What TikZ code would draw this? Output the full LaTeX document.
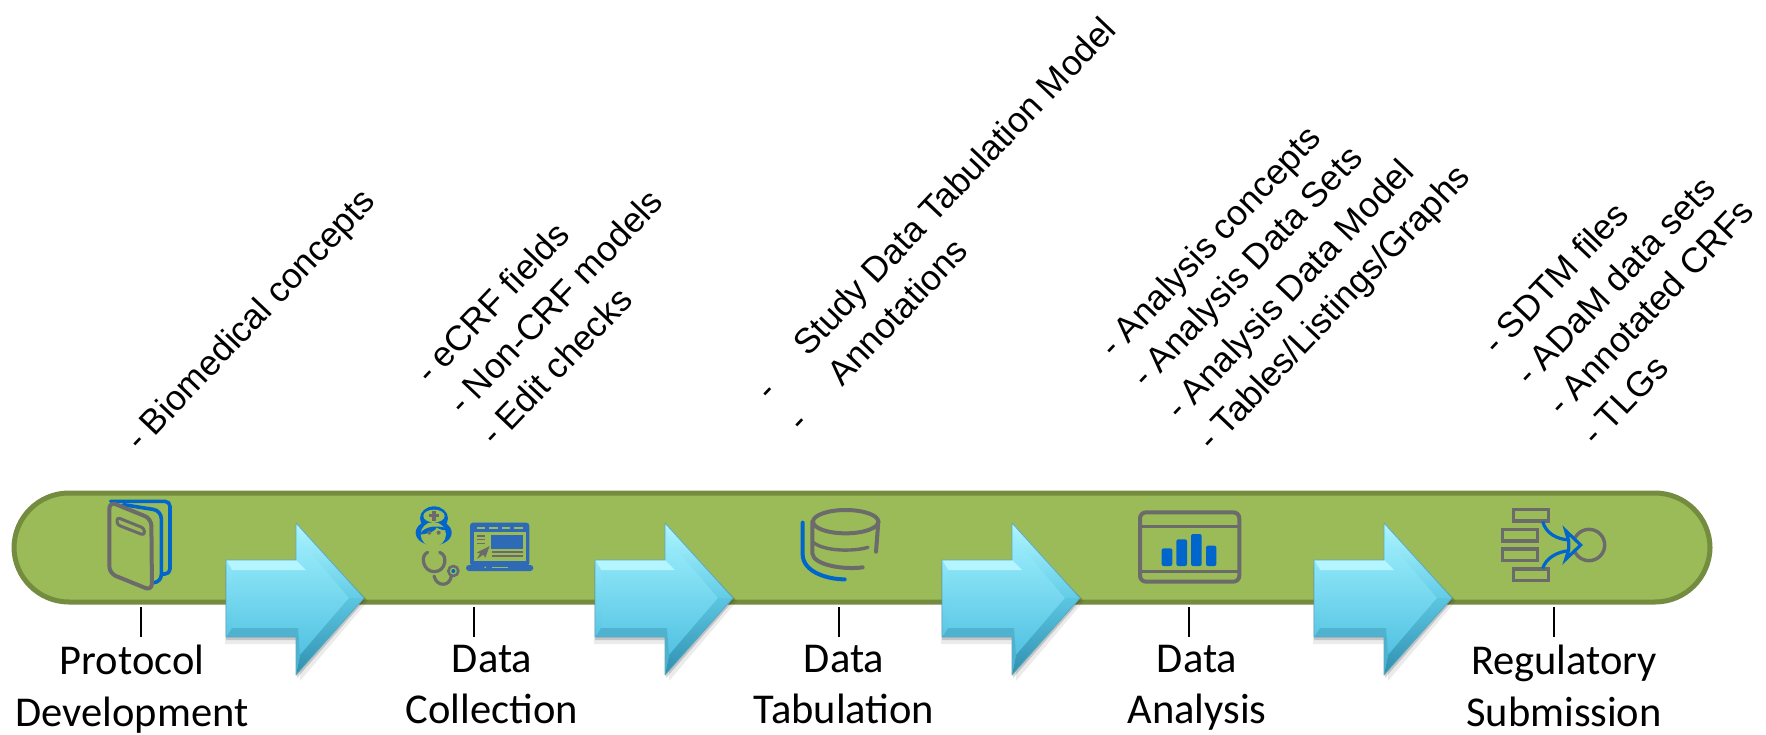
\documentclass[tikz,border=0pt]{standalone}
\usepackage{fontspec}
\setmainfont{Liberation Sans}
\newfontfamily\calib{Carlito}
\definecolor{pillfill}{HTML}{9BBB59}
\definecolor{pilledge}{HTML}{748C40}
\definecolor{icongray}{HTML}{6B6B6B}
\definecolor{iconblue}{HTML}{0066CC}
\definecolor{lapblue}{HTML}{2E6AB5}
\definecolor{arTop}{HTML}{A4F3FF}
\definecolor{arBot}{HTML}{45BADD}
\definecolor{arHiA}{HTML}{B4F5FF}
\definecolor{arHeadA}{HTML}{B0F6FF}
\definecolor{arHeadB}{HTML}{62CCE6}
\definecolor{arLowA}{HTML}{5CC6E2}
\definecolor{arLowB}{HTML}{2F8FAE}
\definecolor{arEdge}{HTML}{4FB2CF}
\definecolor{arLine}{HTML}{5FA9BF}
\tikzset{
  stagelabel/.style={font=\calib\fontsize{42.5}{51.5}\selectfont,align=center,anchor=north,inner sep=0pt,text=black},
  rotlabel/.style={font=\fontsize{35.2}{40}\selectfont,rotate=46.5,anchor=base west,inner sep=0pt,text=black},
  ticklink/.style={draw=black,line width=1.8pt},
  gline/.style={draw=icongray,line width=4pt,line cap=round,line join=round},
  bline/.style={draw=iconblue,line width=4pt,line cap=round,line join=round},
  pics/bevarrow/.style={code={
    \fill[black,opacity=.08] (-1,566)--(74,566)--(74,530)--(142,601)--(74,681)--(74,644)--(-1,644)--cycle;
    \fill[black,opacity=.16] (0,563)--(71,563)--(71,526)--(140,599)--(71,678)--(71,640)--(0,640)--cycle;
    \shade[top color=arTop,bottom color=arBot] (0,560)--(70,560)--(70,523)--(138,598)--(70,675)--(70,637)--(0,637)--cycle;
    \fill[arHiA] (0,560)--(70,560)--(80,570)--(6,570)--cycle;
    \shade[top color=arHeadA,bottom color=arHeadB] (70,523)--(138,598)--(123,598)--(74,540)--cycle;
    \shade[top color=arLowA,bottom color=arLowB] (138,598)--(70,675)--(74,655)--(123,598)--cycle;
    \fill[arEdge] (0,637)--(70,637)--(72,628)--(6,628)--cycle;
    \fill[arEdge] (70,637)--(70,675)--(74,655)--(72,628)--cycle;
    \shade[top color=arTop!80!arBot,bottom color=arBot!80!arTop] (0,560)--(6,570)--(6,628)--(0,637)--cycle;
    \draw[arLine,line width=.8pt,line join=round] (0,560)--(70,560)--(70,523)--(138,598)--(70,675)--(70,637)--(0,637)--cycle;
  }}
}
\begin{document}
\begin{tikzpicture}[x=1pt,y=-1pt]
\useasboundingbox (0,0) rectangle (1766,734);
% band
\draw[pilledge,fill=pillfill,line width=5pt,rounded corners=55pt] (14,493) rectangle (1710,602);

% arrows
\pic at (226,0) {bevarrow};
\pic at (595,0) {bevarrow};
\pic at (942,0) {bevarrow};
\pic at (1314,0) {bevarrow};

% book icon
\begin{scope}[shift={(80,490)},scale=1/3]
  \draw[bline,line width=3.6pt,rounded corners=5pt] (92,34) -- (270,34) -- (270,252) -- (248,252);
  \draw[bline,line width=3.6pt,rounded corners=8pt] (130,44) -- (244,62) -- (244,278) -- (222,278);
  \draw[gline,rounded corners=7pt] (88,35) -- (214,86) -- (216,302) -- (88,250) -- cycle;
  \draw[gline,line width=3pt,rounded corners=3pt] (111,82) -- (193,115) -- (193,136) -- (111,104) -- cycle;
\end{scope}

% nurse and laptop icon
\begin{scope}[shift={(380,490)},scale=1/3]
  \fill[iconblue] (162,85) ellipse[x radius=42,y radius=36];
  \fill[iconblue] (161,128) ellipse[x radius=54,y radius=38];
  \fill[pillfill] (162,78) ellipse[x radius=32,y radius=19];
  \fill[icongray] (157,63) rectangle (167,92);
  \fill[icongray] (148,73) rectangle (176,82);
  \fill[pillfill] (160,133) ellipse[x radius=38,y radius=37];
  \fill[iconblue] (120,134) .. controls (150,130) and (168,122) .. (170,112) .. controls (180,120) and (195,122) .. (206,120) .. controls (190,104) and (130,104) .. cycle;
  \fill[icongray] (148,128) circle[radius=6];
  \fill[icongray] (176,128) circle[radius=6];
  \draw[gline,line width=3.2pt] (143,187) .. controls (120,195) and (128,245) .. (163,245) .. controls (198,245) and (205,195) .. (179,187);
  \draw[gline,line width=3.2pt] (162,258) .. controls (170,292) and (210,290) .. (214,258);
  \draw[gline,line width=2.6pt,fill=pillfill] (220,243) circle[radius=15];
  \fill[iconblue] (220,243) circle[radius=6];
  \fill[lapblue,rounded corners=3pt] (270,98) rectangle (448,228);
  \fill[lapblue,rounded corners=3pt] (258,225) rectangle (460,243);
  \fill[pillfill] (282,126) rectangle (437,214);
  \foreach \u in {290,327,365,402} \fill[pillfill] (\u,112) rectangle +(26,6);
  \fill[lapblue] (334,135) rectangle (429,177);
  \fill[icongray] (335,183) rectangle (429,189);
  \fill[icongray] (335,196) rectangle (429,202);
  \foreach \v in {135,146,158} \fill[icongray] (290,\v) rectangle +(26,5);
  \fill[icongray] (329,168) -- (290,188) -- (300,190) -- (291,207) -- (310,194) -- (316,203) -- cycle;
  \fill[pillfill] (316,232) circle[radius=3];
  \fill[pillfill] (335,230) rectangle (385,235);
\end{scope}

% database icon
\begin{scope}[shift={(770,490)},scale=1/3]
  \draw[gline] (227,95) ellipse[x radius=98,y radius=35];
  \draw[gline] (325,95) -- (318,185);
  \draw[gline] (127,95) -- (127,190) .. controls (130,225) and (220,240) .. (278,232);
  \draw[gline,line width=3.4pt] (127,155) .. controls (160,185) and (250,185) .. (294,172);
  \draw[bline] (98,98) -- (98,195) .. controls (100,245) and (170,268) .. (224,268);
\end{scope}

% chart icon
\begin{scope}[shift={(1110,490)},scale=1/3]
  \draw[gline,rounded corners=6pt] (90,67) rectangle (388,275);
  \draw[gline,line width=2.4pt,line cap=butt] (90,110) -- (388,110);
  \draw[gline,line width=2.4pt,line cap=butt] (90,245) -- (388,245);
  \fill[iconblue,rounded corners=2pt] (155,175) rectangle (187,228);
  \fill[iconblue,rounded corners=2pt] (199,148) rectangle (231,228);
  \fill[iconblue,rounded corners=2pt] (243,132) rectangle (275,228);
  \fill[iconblue,rounded corners=2pt] (288,167) rectangle (319,228);
\end{scope}

% submission icon
\begin{scope}[shift={(1470,490)},scale=1/3]
  \draw[gline,line width=3.4pt,line cap=butt,line join=miter] (130,58) rectangle (235,93);
  \draw[gline,line width=3.4pt,line cap=butt,line join=miter] (97,118) rectangle (202,153);
  \draw[gline,line width=3.4pt,line cap=butt,line join=miter] (97,177) rectangle (202,212);
  \draw[gline,line width=3.4pt,line cap=butt,line join=miter] (130,237) rectangle (235,272);
  \draw[gline,line width=3.4pt] (357,165) circle[radius=47];
  \draw[bline,line width=3.2pt,line cap=butt] (218,95) .. controls (228,130) and (260,148) .. (298,150);
  \draw[bline,line width=3.2pt,line cap=butt] (218,235) .. controls (228,205) and (260,185) .. (298,182);
  \draw[bline,line width=3.2pt,line cap=butt,line join=miter,fill=pillfill] (287,122) -- (332,165) -- (287,208) -- (296,180) -- (296,152) -- cycle;
\end{scope}

% rotated texts
\node[rotlabel] (b1) at (140,453) {- Biomedical concepts};
\node[rotlabel] (c1) at (430,386) {- eCRF fields};
\node[rotlabel] (c2) at (463,417) {- Non-CRF models};
\node[rotlabel] (c3) at (495.5,448) {- Edit checks};
\node[rotlabel] (t1d) at (770,403) {-};
\node[rotlabel] (t2d) at (802,434) {-};
\node[rotlabel] (t1) at (808,358) {Study Data Tabulation Model};
\node[rotlabel] (t2) at (842,388) {Annotations};
\node[rotlabel] (a1) at (1114,360) {- Analysis concepts};
\node[rotlabel] (a2) at (1146,390) {- Analysis Data Sets};
\node[rotlabel] (a3) at (1180,422) {- Analysis Data Model};
\node[rotlabel] (a4) at (1212,453) {- Tables/Listings/Graphs};
\node[rotlabel] (r1) at (1497,357) {- SDTM files};
\node[rotlabel] (r2) at (1530,388) {- ADaM data sets};
\node[rotlabel] (r3) at (1562,418) {- Annotated CRFs};
\node[rotlabel] (r4) at (1596,448) {- TLGs};

% stage labels
\node[stagelabel] (s1) at (132,645) {Protocol\\Development};
\node[stagelabel] (s2) at (492,645) {Data\\Collection};
\node[stagelabel] (s3) at (844,645) {Data\\Tabulation};
\node[stagelabel] (s4) at (1197,645) {Data\\Analysis};
\node[stagelabel] (s5) at (1564,645) {Regulatory\\Submission};

% ticks
\coordinate (k1) at (141,607); \coordinate (k1b) at (141,637);
\coordinate (k2) at (474,607); \coordinate (k2b) at (474,637);
\coordinate (k3) at (839,607); \coordinate (k3b) at (839,637);
\coordinate (k4) at (1189,607); \coordinate (k4b) at (1189,637);
\coordinate (k5) at (1554,607); \coordinate (k5b) at (1554,637);
\foreach \k in {1,...,5} \draw[ticklink] (k\k) -- (k\k b);
\end{tikzpicture}
\end{document}
